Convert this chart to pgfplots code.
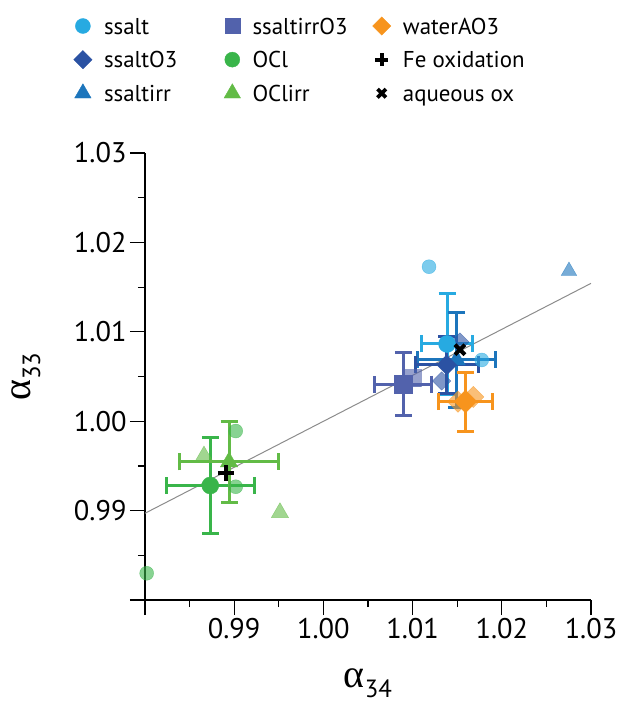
\documentclass[border=0pt]{standalone}
\usepackage{fontspec}
\setmainfont{PT Sans}
\newfontfamily\serifgreek{Liberation Serif}
\usepackage{pgfplots}
\pgfplotsset{compat=1.18}

\definecolor{cSsalt}{HTML}{27AAE1}
\definecolor{cSsaltO3}{HTML}{2B52A3}
\definecolor{cSsaltirr}{HTML}{1C75BC}
\definecolor{cSsaltirrO3}{HTML}{5262AC}
\definecolor{cOCl}{HTML}{39B54A}
\definecolor{cOClirr}{HTML}{62BB46}
\definecolor{cWater}{HTML}{F7941D}
\definecolor{cFit}{HTML}{8C8C8C}

\newcommand{\alab}[1]{{\serifgreek\fontsize{40}{40}\selectfont α}\raisebox{-10bp}{\fontsize{25}{25}\selectfont #1}}
\newcommand{\lab}[2]{\makebox[#1][l]{\strut #2}}

\pgfplotsset{
  errs/.style={only marks,
    error bars/x dir=both, error bars/x explicit, error bars/y dir=both, error bars/y explicit,
    error bars/error bar style={line width=3bp, #1},
    error bars/error mark options={rotate=90, mark size=8.5bp, line width=3bp, #1}},
  faded/.style={only marks, opacity=0.6},
}

\begin{document}
\begin{tikzpicture}
\path[use as bounding box] (-145bp,-104bp) rectangle (480bp,600bp);
\begin{axis}[
  at={(0,0)}, anchor=south west,
  scale only axis, width=446bp, height=447bp,
  xmin=0.98, xmax=1.03, ymin=0.98, ymax=1.03,
  axis lines=left, axis line style={-, line width=1.3bp, black},
  clip=false,
  xtick={0.98,0.99,1.00,1.01,1.02,1.03},
  ytick={0.98,0.99,1.00,1.01,1.02,1.03},
  xticklabels={,0.99,1.00,1.01,1.02,1.03},
  yticklabels={,0.99,1.00,1.01,1.02,1.03},
  minor x tick num=1, minor y tick num=1,
  tick align=outside,
  major tick length=15bp, minor tick length=7bp,
  every tick/.style={black, line width=1.2bp},
  tick label style={font=\fontsize{28.5}{28.5}\selectfont},
  xlabel={\alab{34}},
  ylabel={\alab{33}},
  xlabel style={at={(rel axis cs:0.5,0)}, anchor=center, yshift=-83bp},
  ylabel style={at={(rel axis cs:0,0.5)}, anchor=center, yshift=119bp},
  legend columns=3,
  legend style={at={(-0.1603,1.3065)}, anchor=north west, draw=none, fill=none,
    inner sep=0pt, font=\fontsize{23}{26}\selectfont, row sep=14bp,
    nodes={inner xsep=0pt, inner ysep=0pt},
    /tikz/every odd column/.style={column sep=12bp},
    /tikz/every even column/.style={column sep=0bp}},
]
% legend, row by row
\addlegendimage{only marks, mark=*, mark size=7.5bp, cSsalt}
\addlegendentry{\lab{120bp}{ssalt}}
\addlegendimage{only marks, mark=square*, mark size=7.5bp, cSsaltirrO3}
\addlegendentry{\lab{120bp}{ssaltirrO3}}
\addlegendimage{only marks, mark=square*, mark size=6.5bp, mark options={rotate=45}, cWater}
\addlegendentry{\lab{100bp}{waterAO3}}
\addlegendimage{only marks, mark=square*, mark size=6.5bp, mark options={rotate=45}, cSsaltO3}
\addlegendentry{\lab{120bp}{ssaltO3}}
\addlegendimage{only marks, mark=*, mark size=7.5bp, cOCl}
\addlegendentry{\lab{120bp}{OCl}}
\addlegendimage{only marks, mark=+, mark size=6.5bp, line width=3.8bp, black}
\addlegendentry{\lab{100bp}{Fe oxidation}}
\addlegendimage{only marks, mark=triangle*, mark size=9.5bp, cSsaltirr}
\addlegendentry{\lab{120bp}{ssaltirr}}
\addlegendimage{only marks, mark=triangle*, mark size=9.5bp, cOClirr}
\addlegendentry{\lab{120bp}{OClirr}}
\addlegendimage{only marks, mark=x, mark size=6bp, line width=3.8bp, black}
\addlegendentry{\lab{100bp}{aqueous ox}}

% fit line
\addplot[forget plot, cFit, line width=1bp] coordinates {(0.98,0.98970)(1.03,1.01542)};

% individual (faded) points
\addplot[forget plot, faded, mark=*, mark size=7bp, cSsalt] coordinates {(1.01184,1.01728)(1.01775,1.00685)};
\addplot[forget plot, faded, mark=square*, mark size=6.5bp, mark options={rotate=45}, cSsaltO3] coordinates {(1.01531,1.00886)(1.01326,1.00450)};
\addplot[forget plot, faded, mark=triangle*, mark size=9bp, cSsaltirr] coordinates {(1.02753,1.01680)};
\addplot[forget plot, faded, mark=square*, mark size=8.5bp, cSsaltirrO3] coordinates {(1.01000,1.00483)};
\addplot[forget plot, faded, mark=square*, mark size=7.5bp, mark options={rotate=45}, cWater] coordinates {(1.01681,1.00271)(1.01509,1.00218)};
\addplot[forget plot, faded, mark=*, mark size=7bp, cOCl] coordinates {(0.99017,0.99890)(0.99017,0.99267)(0.98019,0.98299)};
\addplot[forget plot, faded, mark=triangle*, mark size=10bp, cOClirr] coordinates {(0.98661,0.99611)(0.99513,0.98977)};

% means with error bars
\addplot[forget plot, errs=cSsalt, mark=*, mark size=8.5bp, cSsalt] table[x=x, y=y, x error=ex, y error=ey] {
x y ex ey
1.01386 1.00864 0.0029 0.0056
};
\addplot[forget plot, errs=cSsaltirr, mark=triangle*, mark size=10bp, cSsaltirr] table[x=x, y=y, x error=ex, y error=ey] {
x y ex ey
1.01494 1.00685 0.0044 0.0053
};
\addplot[forget plot, errs=cSsaltO3, mark=square*, mark size=7bp, mark options={rotate=45}, cSsaltO3] table[x=x, y=y, x error=ex, y error=ey] {
x y ex ey
1.01382 1.00629 0.00355 0.00324
};
\addplot[forget plot, errs=cSsaltirrO3, mark=square*, mark size=8.8bp, cSsaltirrO3] table[x=x, y=y, x error=ex, y error=ey] {
x y ex ey
1.00896 1.00416 0.0032 0.0035
};
\addplot[forget plot, errs=cWater, mark=square*, mark size=8bp, mark options={rotate=45}, cWater] table[x=x, y=y, x error=ex, y error=ey] {
x y ex ey
1.01593 1.00220 0.0030 0.0033
};
\addplot[forget plot, errs=cOCl, mark=*, mark size=8.5bp, cOCl] table[x=x, y=y, x error=ex, y error=ey] {
x y ex ey
0.98732 0.99281 0.0049 0.0054
};
\addplot[forget plot, errs=cOClirr, mark=triangle*, mark size=10bp, cOClirr] table[x=x, y=y, x error=ex, y error=ey] {
x y ex ey
0.98942 0.99544 0.0055 0.0045
};
\addplot[forget plot, only marks, mark=+, mark size=8bp, line width=4bp, black] coordinates {(0.98908,0.99417)};
\addplot[forget plot, only marks, mark=x, mark size=7bp, line width=4bp, black] coordinates {(1.01531,1.00800)};
\end{axis}
\end{tikzpicture}
\end{document}
